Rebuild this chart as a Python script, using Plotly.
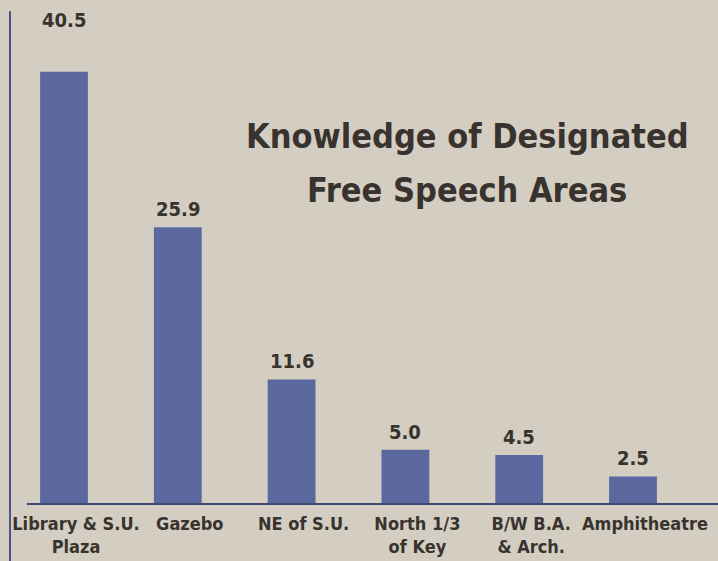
import plotly.graph_objects as go

categories = ["Library & S.U.<br>Plaza", "Gazebo", "NE of S.U.", "North 1/3<br>of Key",
              "B/W B.A.<br>& Arch.", "Amphitheatre"]
values = [40.5, 25.9, 11.6, 5.0, 4.5, 2.5]
value_labels = ["40.5", "25.9", "11.6", "5.0", "4.5", "2.5"]
label_shift = [38, 4, 4, 4, 4, 4]
title_lines = ["Knowledge of Designated", "Free Speech Areas"]

PAPER = "#d4cdc1"
INK = "#38332e"
BAR = "#5b68a0"
FONT = "DejaVu Sans Condensed, Liberation Sans Narrow, Arial Narrow, sans-serif"

fig = go.Figure()
fig.add_trace(go.Bar(
    x=list(range(len(categories))), y=values,
    marker=dict(color=BAR, line=dict(width=0)),
    width=0.42,
    hoverinfo="skip",
))

for i, (v, t, s) in enumerate(zip(values, value_labels, label_shift)):
    fig.add_annotation(x=i, y=v, text=t, showarrow=False, yanchor="bottom",
                       yshift=s, font=dict(family=FONT, size=20, color=INK, weight="bold"))

for line, ypos in zip(title_lines, [0.745, 0.635]):
    fig.add_annotation(xref="paper", yref="paper", x=0.637, y=ypos,
                       text=line, showarrow=False, align="center", yanchor="middle",
                       font=dict(family=FONT, size=34, color=INK, weight="bold"))

# left rule
fig.add_shape(type="line", xref="paper", yref="paper",
              x0=-0.0246, x1=-0.0246, y0=-0.12, y1=0.998,
              line=dict(color="#4a5585", width=2))

fig.update_layout(
    width=718, height=561,
    paper_bgcolor=PAPER, plot_bgcolor=PAPER,
    margin=dict(l=27, r=0, t=10, b=58),
    showlegend=False,
    xaxis=dict(range=[-0.325, 5.747], tickmode="array",
               tickvals=list(range(len(categories))), ticktext=categories,
               showgrid=False, zeroline=False, showline=True,
               linecolor="#3f4a6e", linewidth=2, ticks="",
               ticklabelshift=12, ticklabelstandoff=3,
               tickfont=dict(family=FONT, size=18, color=INK, weight="bold")),
    yaxis=dict(range=[0, 46.3], visible=False, showgrid=False, zeroline=False),
    font=dict(family=FONT, color=INK),
)

fig.write_html("out.html", config={"displayModeBar": False},
               post_script="document.body.style.margin='0';document.body.style.overflow='hidden';")
